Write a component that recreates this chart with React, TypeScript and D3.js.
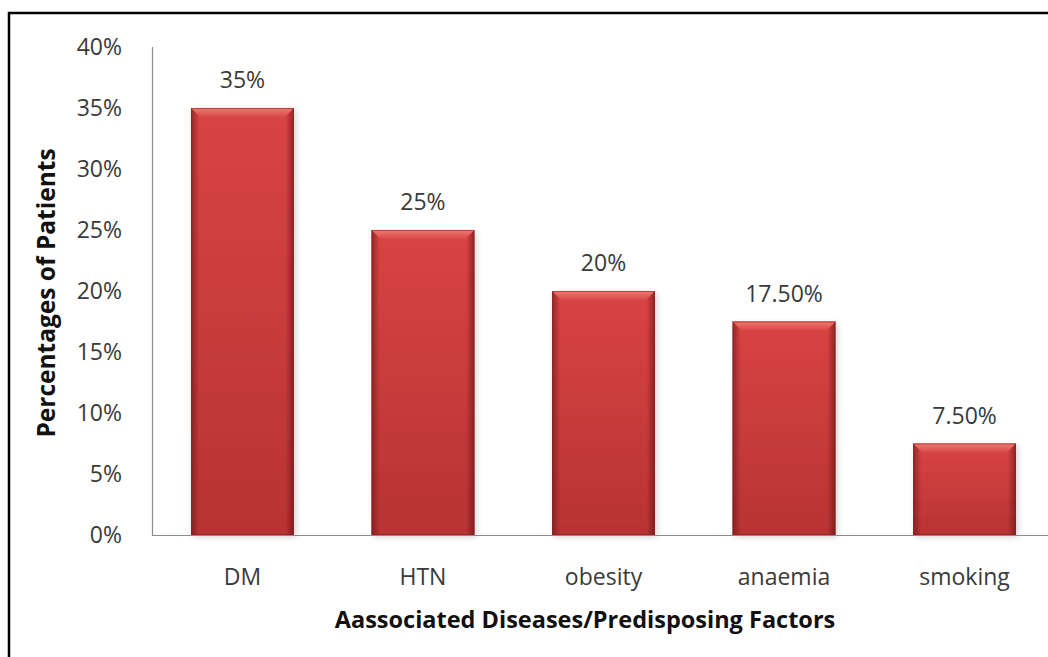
import React, { useEffect, useRef } from "react";
import * as d3 from "d3";

const categories = ["DM", "HTN", "obesity", "anaemia", "smoking"];
const values = [35, 25, 20, 17.5, 7.5];
const valueLabels = ["35%", "25%", "20%", "17.50%", "7.50%"];
const yTicks = [0, 5, 10, 15, 20, 25, 30, 35, 40];

const width = 1048;
const height = 657;
const font = "'Open Sans', 'DejaVu Sans', sans-serif";

export default function App() {
  const ref = useRef(null);

  useEffect(() => {
    const svg = d3.select(ref.current);
    svg.selectAll("*").remove();

    const x = d3
      .scaleBand<string>()
      .domain(categories)
      .range([152, 1055])
      .paddingInner(0.43)
      .paddingOuter(0.216);
    const y = d3.scaleLinear().domain([0, 40]).range([535, 47]);

    const defs = svg.append("defs");
    // vertical shading of the bar face
    const gv = defs
      .append("linearGradient")
      .attr("id", "face")
      .attr("x1", 0)
      .attr("y1", 0)
      .attr("x2", 0)
      .attr("y2", 1);
    gv.append("stop").attr("offset", "0%").attr("stop-color", "#d84444");
    gv.append("stop").attr("offset", "100%").attr("stop-color", "#b83333");
    // darker side edges
    const gh = defs
      .append("linearGradient")
      .attr("id", "sides")
      .attr("x1", 0)
      .attr("y1", 0)
      .attr("x2", 1)
      .attr("y2", 0);
    gh.append("stop").attr("offset", "0%").attr("stop-color", "#5a1010").attr("stop-opacity", 0.55);
    gh.append("stop").attr("offset", "8%").attr("stop-color", "#5a1010").attr("stop-opacity", 0);
    gh.append("stop").attr("offset", "92%").attr("stop-color", "#5a1010").attr("stop-opacity", 0);
    gh.append("stop").attr("offset", "100%").attr("stop-color", "#5a1010").attr("stop-opacity", 0.6);
    const gt = defs
      .append("linearGradient")
      .attr("id", "bevel")
      .attr("x1", 0)
      .attr("y1", 0)
      .attr("x2", 0)
      .attr("y2", 1);
    gt.append("stop").attr("offset", "0%").attr("stop-color", "#f07a70");
    gt.append("stop").attr("offset", "100%").attr("stop-color", "#d84848");
    const shadow = defs.append("filter").attr("id", "shadow").attr("x", "-20%").attr("y", "-20%").attr("width", "140%").attr("height", "140%");
    shadow.append("feGaussianBlur").attr("in", "SourceAlpha").attr("stdDeviation", 3);
    shadow.append("feOffset").attr("dx", 2).attr("dy", 2).attr("result", "b");
    shadow.append("feComponentTransfer").append("feFuncA").attr("type", "linear").attr("slope", 0.18);
    const m = shadow.append("feMerge");
    m.append("feMergeNode");
    m.append("feMergeNode").attr("in", "SourceGraphic");

    svg.append("rect").attr("width", width).attr("height", height).attr("fill", "#fff");

    // frame (only top and left edges are in view)
    svg
      .append("path")
      .attr("d", `M9,${height} L9,13 L${width},13`)
      .attr("fill", "none")
      .attr("stroke", "#000")
      .attr("stroke-width", 2.5);

    // y axis line
    svg
      .append("line")
      .attr("x1", 152.5)
      .attr("x2", 152.5)
      .attr("y1", y(40))
      .attr("y2", y(0))
      .attr("stroke", "#8c8c8c")
      .attr("stroke-width", 1.2);

    svg
      .append("g")
      .selectAll("text")
      .data(yTicks)
      .join("text")
      .attr("x", 122)
      .attr("y", (d) => y(d))
      .attr("dy", "0.36em")
      .attr("text-anchor", "end")
      .attr("font-family", font)
      .attr("font-size", 23)
      .attr("fill", "#3a3a3a")
      .text((d) => d + "%");

    const bars = svg.append("g");
    categories.forEach((c, i) => {
      const bx = x(c)!;
      const bw = x.bandwidth();
      const by = y(values[i]);
      const bh = y(0) - by;
      const g = bars.append("g");
      g.append("rect")
        .attr("x", bx)
        .attr("y", by)
        .attr("width", bw)
        .attr("height", bh)
        .attr("fill", "url(#face)")
        .attr("filter", "url(#shadow)");
      g.append("rect")
        .attr("x", bx)
        .attr("y", by)
        .attr("width", bw)
        .attr("height", bh)
        .attr("fill", "url(#sides)");
      const bev = Math.min(9, bh / 2);
      g.append("path")
        .attr(
          "d",
          `M${bx},${by} L${bx + bw},${by} L${bx + bw - bev},${by + bev} L${bx + bev},${by + bev} Z`
        )
        .attr("fill", "url(#bevel)");
      g.append("rect")
        .attr("x", bx + 0.5)
        .attr("y", by + 0.5)
        .attr("width", bw - 1)
        .attr("height", bh - 1)
        .attr("fill", "none")
        .attr("stroke", "#8a2222")
        .attr("stroke-opacity", 0.6);
    });

    // value labels
    svg
      .append("g")
      .selectAll("text")
      .data(categories)
      .join("text")
      .attr("x", (d) => x(d)! + x.bandwidth() / 2)
      .attr("y", (d, i) => y(values[i]) - 20)
      .attr("text-anchor", "middle")
      .attr("font-family", font)
      .attr("font-size", 23)
      .attr("fill", "#3a3a3a")
      .text((d, i) => valueLabels[i]);

    // x baseline
    svg
      .append("line")
      .attr("x1", 152)
      .attr("x2", width)
      .attr("y1", y(0) + 0.5)
      .attr("y2", y(0) + 0.5)
      .attr("stroke", "#8c8c8c")
      .attr("stroke-width", 1.2);

    svg
      .append("g")
      .selectAll("text")
      .data(categories)
      .join("text")
      .attr("x", (d) => x(d)! + x.bandwidth() / 2)
      .attr("y", 585)
      .attr("text-anchor", "middle")
      .attr("font-family", font)
      .attr("font-size", 23)
      .attr("fill", "#3a3a3a")
      .text((d) => d);

    svg
      .append("text")
      .attr("x", 585)
      .attr("y", 628)
      .attr("text-anchor", "middle")
      .attr("font-family", font)
      .attr("font-size", 23.5)
      .attr("font-weight", "bold")
      .attr("fill", "#111")
      .text("Aassociated Diseases/Predisposing Factors");

    svg
      .append("text")
      .attr("transform", "translate(55,293) rotate(-90)")
      .attr("text-anchor", "middle")
      .attr("font-family", font)
      .attr("font-size", 24.5)
      .attr("font-weight", "bold")
      .attr("fill", "#111")
      .text("Percentages of Patients");
  }, []);

  return (
    <svg
      ref={ref}
      width={width}
      height={height}
      style={{ position: "absolute", left: 0, top: 0, display: "block" }}
    />
  );
}
